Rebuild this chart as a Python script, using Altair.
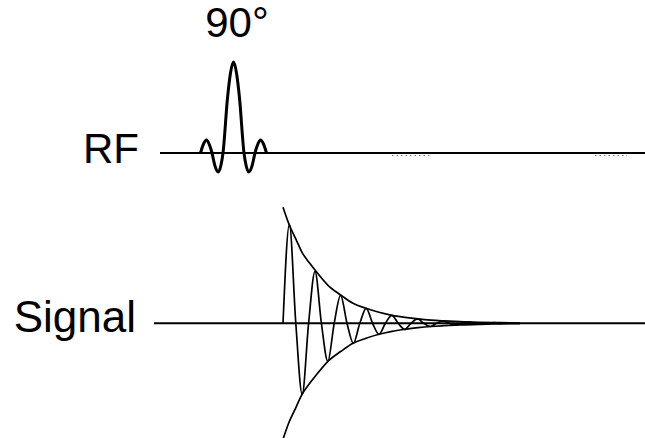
import altair as alt
import pandas as pd

# Time axis (arbitrary units) and amplitude axis (arbitrary units)
T_MAX = 645
A_MAX = 438
RF_BASE = 285.0      # baseline level of the RF row
SIG_BASE = 114.7     # baseline level of the signal row

# 90° excitation pulse (sinc shaped): time, amplitude relative to the RF baseline
rf_t = [200.5, 203.5, 206.5, 209.5, 212.0, 215.0, 218.3, 221.0, 223.0,
        227.5, 230.5, 233.5, 236.5, 239.5, 244.0, 246.0, 248.7, 252.0,
        255.0, 257.5, 260.5, 263.5, 266.5]
rf_amp = [0, 9, 13, 8, 0, -13, -19, -12, 0,
          55, 80, 91, 80, 55, 0, -12, -19, -13,
          0, 8, 13, 9, 0]

# Free induction decay: time, amplitude relative to the signal baseline
fid_t = [283.0, 289.4, 295.8, 302.2, 308.6, 315.0, 321.4, 327.8, 334.2,
         340.6, 347.0, 353.4, 359.8, 366.2, 372.6, 379.0, 385.4, 391.8,
         398.2, 404.6, 411.0, 417.4, 423.8, 430.2, 436.6, 443.0, 449.4,
         455.8, 462.2, 468.6, 475.0, 481.4, 487.8, 494.2, 500.6]
fid_amp = [0, 99, 0, -71, 0, 52, 0, -38, 0,
           28, 0, -20, 0, 15, 0, -11, 0, 8,
           0, -6, 0, 4.4, 0, -3.2, 0, 2.4, 0,
           -1.7, 0, 1.3, 0, -0.9, 0, 0.7, 0]

# T2* decay envelope (upper half; the lower half mirrors it)
env_t = [283, 289, 296, 302, 309, 316, 328, 341, 353, 366, 379, 392,
         405, 418, 431, 444, 460, 480, 500, 520]
env_amp = [116, 99, 84, 71, 61, 52, 38, 28, 20, 15, 11, 8,
           6, 4.4, 3.2, 2.4, 1.6, 1.0, 0.6, 0.3]

# Baseline extents for each row
row_names = ["RF", "Signal"]
row_start = [160, 154]
row_level = [RF_BASE, SIG_BASE]

# Faint dotted traces lying just under the RF baseline
dot_start = [392, 595]
dot_end = [432, 627]

rf_df = pd.DataFrame({"t": rf_t, "a": [RF_BASE + v for v in rf_amp]})
fid_df = pd.DataFrame({"t": fid_t, "a": [SIG_BASE + v for v in fid_amp]})
env_df = pd.concat([
    pd.DataFrame({"t": env_t, "a": [SIG_BASE + v for v in env_amp], "side": "upper"}),
    pd.DataFrame({"t": env_t, "a": [SIG_BASE - v for v in env_amp], "side": "lower"}),
])
base_df = pd.DataFrame({"name": row_names, "t": row_start, "t2": [T_MAX] * 2, "a": row_level})
dot_df = pd.DataFrame({"t": dot_start, "t2": dot_end, "a": [RF_BASE - 2.5] * 2})

xs = alt.Scale(domain=[0, T_MAX])
ys = alt.Scale(domain=[0, A_MAX])
X = alt.X("t:Q", scale=xs, axis=None)
Y = alt.Y("a:Q", scale=ys, axis=None)

baselines = alt.Chart(base_df).mark_rule(color="black", strokeWidth=2).encode(
    x=X, x2="t2:Q", y=Y)

dots = alt.Chart(dot_df).mark_rule(color="#777777", strokeWidth=1, strokeDash=[1.5, 3]).encode(
    x=X, x2="t2:Q", y=Y)

pulse = alt.Chart(rf_df).mark_line(
    color="black", strokeWidth=3, interpolate="monotone", clip=True).encode(x=X, y=Y)

envelope = alt.Chart(env_df).mark_line(
    color="black", strokeWidth=1.7, interpolate="monotone", clip=True).encode(
    x=X, y=Y, detail="side:N")

fid = alt.Chart(fid_df).mark_line(
    color="black", strokeWidth=1.7, interpolate="monotone", clip=True).encode(x=X, y=Y)

FONT = "Liberation Sans"

def label(t, a, txt, size, align):
    return alt.Chart(pd.DataFrame({"t": [t], "a": [a], "txt": [txt]})).mark_text(
        font=FONT, fontSize=size, align=align, baseline="alphabetic", color="black").encode(
        x=X, y=Y, text="txt:N")

flip_label = label(237, 401, "90°", 42, "center")
rf_label = label(139, 274.7, row_names[0], 42, "right")
sig_label = label(136, 105.7, row_names[1], 44, "right")

chart = alt.layer(
    baselines, dots, pulse, envelope, fid, flip_label, rf_label, sig_label
).properties(
    width=645, height=438, padding=0, autosize=alt.AutoSizeParams(type="none")
).configure_view(stroke=None)

chart.save("out.html", embed_options={"renderer": "svg", "actions": False})
